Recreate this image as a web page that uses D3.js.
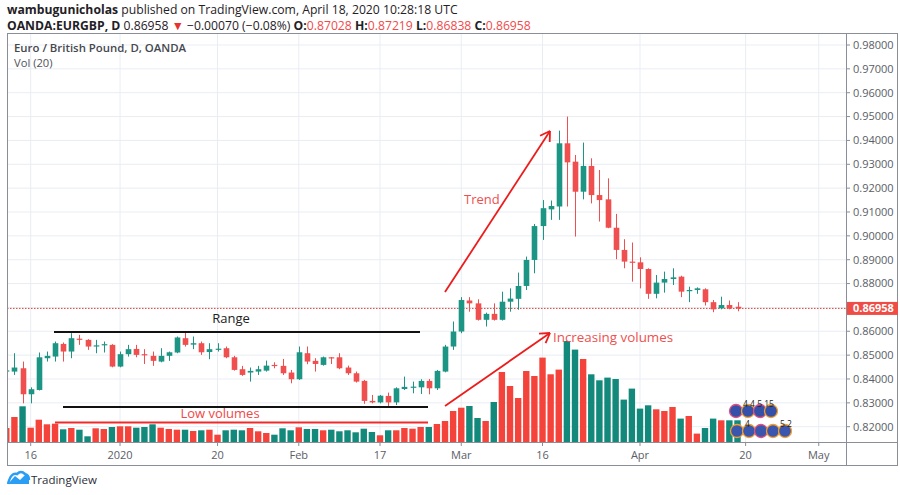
<!DOCTYPE html>
<html><head><meta charset="utf-8">
<script src="https://cdn.jsdelivr.net/npm/d3@7"></script>
<style>body{margin:0;background:#fff;} svg{display:block;font-family:'Open Sans',sans-serif;}</style>
</head><body><svg id="c" width="900" height="495"></svg>
<script>
// ---- data (EUR/GBP daily, OANDA) ----
const opens = [.8432,.8431,.8445,.8336,.8354,.8487,.8494,.8547,.8515,.8569,.8564,.8540,.8541,.8543,.8452,.8504,.8526,.8504,.8497,.8473,
.8497,.8511,.8571,.8544,.8550,.8513,.8522,.8529,.8491,.8441,.8427,.8431,.8435,.8459,.8455,.8427,.8399,.8508,.8476,.8459,
.8491,.8491,.8448,.8424,.8392,.8308,.8302,.8329,.8302,.8358,.8365,.8365,.8392,.8361,.8431,.8536,.8599,.8729,.8717,.8648,
.8673,.8648,.8724,.8736,.8790,.8899,.9041,.9111,.9123,.9388,.9311,.9185,.9293,.9171,.9153,.9034,.8941,.8892,.8889,.8861,
.8757,.8804,.8819,.8829,.8769,.8773,.8776,.8722,.8696,.8710,.87028];
const highs = [.8442,.8508,.8473,.8365,.8511,.8515,.8557,.8553,.8592,.8585,.8567,.8564,.8557,.8546,.8515,.8543,.8543,.8525,.8515,.8529,
.8515,.8578,.8596,.8578,.8557,.8550,.8550,.8536,.8497,.8455,.8448,.8455,.8477,.8470,.8484,.8438,.8536,.8536,.8487,.8494,
.8492,.8508,.8456,.8431,.8396,.8333,.8333,.8343,.8365,.8410,.8389,.8399,.8400,.8438,.8543,.8641,.8743,.8743,.8734,.8678,
.8717,.8766,.8780,.8846,.8913,.9050,.9150,.9148,.9441,.9500,.9339,.9391,.9325,.9276,.9241,.9092,.8986,.8972,.8910,.8864,
.8836,.8850,.8864,.8833,.8787,.8784,.8780,.8731,.8745,.8729,.87219];
const lows = [.8428,.8417,.8298,.8298,.8352,.8473,.8473,.8473,.8487,.8543,.8522,.8508,.8511,.8449,.8449,.8494,.8491,.8463,.8455,.8470,
.8476,.8508,.8536,.8525,.8501,.8483,.8515,.8487,.8435,.8413,.8389,.8417,.8431,.8445,.8417,.8382,.8396,.8462,.8431,.8456,
.8463,.8441,.8417,.8385,.8296,.8298,.8298,.8284,.8291,.8354,.8340,.8337,.8336,.8354,.8428,.8522,.8592,.8682,.8645,.8620,
.8645,.8645,.8682,.8690,.8773,.8843,.8983,.9067,.9067,.9123,.8997,.9153,.9136,.9060,.9032,.8902,.8864,.8808,.8780,.8736,
.8738,.8762,.8794,.8743,.8722,.8757,.8708,.8680,.8692,.8692,.86838];
const closes = [.8436,.8448,.8336,.8357,.8491,.8497,.8550,.8515,.8571,.8564,.8536,.8541,.8546,.8452,.8504,.8525,.8501,.8499,.8476,.8497,
.8512,.8574,.8543,.8550,.8512,.8525,.8527,.8491,.8438,.8417,.8434,.8441,.8456,.8455,.8424,.8399,.8512,.8473,.8463,.8491,
.8487,.8445,.8424,.8389,.8308,.8302,.8330,.8302,.8361,.8367,.8368,.8392,.8361,.8434,.8536,.8599,.8731,.8717,.8648,.8673,
.8648,.8724,.8737,.8790,.8899,.9041,.9116,.9125,.9388,.9308,.9185,.9293,.9171,.9150,.9034,.8941,.8892,.8888,.8861,.8757,
.8804,.8819,.8826,.8766,.8773,.8780,.8722,.8692,.8710,.8696,.86958];
const volumes = [1400,2500,3570,1430,2230,1770,1830,1270,1400,1230,570,1370,1300,1500,1570,1570,1430,1500,1770,1430,
1300,1230,1230,1100,1170,1230,730,1170,1230,1170,1400,1070,900,730,1370,1170,1470,1300,1300,1170,
1230,1070,1170,970,1330,1000,670,1170,1170,1400,1330,1500,1500,1800,2100,3100,3430,3600,2400,2100,
4000,7000,5600,4400,7100,6600,8440,6770,7240,10100,9240,8300,6770,6170,6440,6300,4240,5340,3340,3670,
3270,3100,3500,2340,2600,840,1400,2340,2170,2170,2170];
const priceTicks = [0.82,0.83,0.84,0.85,0.86,0.87,0.88,0.89,0.90,0.91,0.92,0.93,0.94,0.95,0.96,0.97,0.98];
const timeTickIndex = [3,14,26,36,46,56,66,78,91,100];
const timeTickLabels = ["16","2020","20","Feb","17","Mar","16","Apr","20","May"];
const lastPrice = 0.86958;

// ---- layout ----
const svg = d3.select("#c");
const L = 7, R = 846, T = 33, B = 442, FB = 466, FR = 898;
const UP = "#1d9584", DN = "#ef4f4f", VUP = "#f4433a", VDN = "#13897b";
const x = d3.scaleLinear().domain([0, 90]).range([6.3, 737.5]);
const y = d3.scaleLinear().domain([0.82, 0.98]).range([426.7, 45]);
const yv = d3.scaleLinear().domain([0, 10100]).range([B, 341]);

svg.append("defs").append("clipPath").attr("id","plot")
  .append("rect").attr("x",L).attr("y",T).attr("width",R-L).attr("height",B-T);

// grid
const g = svg.append("g").attr("clip-path","url(#plot)");
g.selectAll(".hg").data(priceTicks).join("line")
  .attr("x1",L).attr("x2",R).attr("y1",d=>y(d)).attr("y2",d=>y(d))
  .attr("stroke","#e9edf3").attr("stroke-width",1);
g.selectAll(".vg").data(timeTickIndex).join("line")
  .attr("x1",d=>x(d)).attr("x2",d=>x(d)).attr("y1",T).attr("y2",B)
  .attr("stroke","#e9edf3").attr("stroke-width",1);

const idx = d3.range(opens.length);
// volume
const bw = 6.4;
g.selectAll(".vol").data(idx).join("rect")
  .attr("x",i=>x(i)-bw/2).attr("width",bw)
  .attr("y",i=>yv(volumes[i])).attr("height",i=>B-yv(volumes[i]))
  .attr("fill",i=>closes[i]>=opens[i]?VUP:VDN);

// price line
g.append("line").attr("x1",L).attr("x2",R).attr("y1",y(lastPrice)).attr("y2",y(lastPrice))
  .attr("stroke","#e0403a").attr("stroke-width",1).attr("stroke-dasharray","1.5,1.5");

// candles
const cw = 5.6;
g.selectAll(".wick").data(idx).join("line")
  .attr("x1",i=>Math.round(x(i))+0.5).attr("x2",i=>Math.round(x(i))+0.5)
  .attr("y1",i=>y(highs[i])).attr("y2",i=>y(lows[i]))
  .attr("stroke",i=>closes[i]>=opens[i]?UP:DN).attr("stroke-width",1);
g.selectAll(".body").data(idx).join("rect")
  .attr("x",i=>Math.round(x(i))+0.5-cw/2).attr("width",cw)
  .attr("y",i=>y(Math.max(opens[i],closes[i])))
  .attr("height",i=>Math.max(1.2, Math.abs(y(opens[i])-y(closes[i]))))
  .attr("fill",i=>closes[i]>=opens[i]?UP:DN);

// frame
svg.append("rect").attr("x",L+0.5).attr("y",T+0.5).attr("width",FR-L-1).attr("height",FB-T-1)
  .attr("fill","none").attr("stroke","#8a8e96").attr("stroke-width",1);
svg.append("line").attr("x1",R+0.5).attr("x2",R+0.5).attr("y1",T).attr("y2",FB).attr("stroke","#8a8e96");
svg.append("line").attr("x1",L).attr("x2",FR).attr("y1",B+0.5).attr("y2",B+0.5).attr("stroke","#8a8e96");

// price axis
const pa = svg.append("g").attr("transform",`translate(${R},0)`);
pa.selectAll("line").data(priceTicks).join("line")
  .attr("x1",0).attr("x2",4).attr("y1",d=>y(d)).attr("y2",d=>y(d)).attr("stroke","#8a8e96");
pa.selectAll("text").data(priceTicks).join("text")
  .attr("x",7).attr("y",d=>y(d)).attr("dy","0.35em")
  .attr("font-size",11).attr("fill","#5a5e66").text(d=>d.toFixed(5));
// last price label
pa.append("rect").attr("x",1).attr("y",y(lastPrice)-6.5).attr("width",FR-R-1).attr("height",13).attr("fill","#ef4c45");
pa.append("text").attr("x",7).attr("y",y(lastPrice)).attr("dy","0.36em").attr("font-size",11)
  .attr("font-weight","bold").attr("fill","#fff").text(lastPrice.toFixed(5));

// time axis
const ta = svg.append("g");
ta.selectAll("line").data(timeTickIndex).join("line")
  .attr("x1",d=>x(d)).attr("x2",d=>x(d)).attr("y1",B).attr("y2",B+4).attr("stroke","#8a8e96");
ta.selectAll("text").data(timeTickIndex).join("text")
  .attr("x",d=>x(d)).attr("y",455).attr("dy","0.35em").attr("text-anchor","middle")
  .attr("font-size",11).attr("fill","#5a5e66").text((d,k)=>timeTickLabels[k]);

// header
const h1 = svg.append("text").attr("x",7).attr("y",13.5).attr("font-size",12.2).attr("fill","#1f2126");
h1.append("tspan").attr("font-weight","bold").text("wambugunicholas");
h1.append("tspan").text(" published on TradingView.com, April 18, 2020 10:28:18 UTC");
const h2 = svg.append("text").attr("x",7).attr("y",29.5).attr("font-size",12.2).attr("fill","#1f2126");
h2.append("tspan").attr("font-weight","bold").text("OANDA:EURGBP, D");
h2.append("tspan").text(" 0.86958 ");
h2.append("tspan").attr("fill","#e8322c").text("▼");
h2.append("tspan").text(" −0.00070 (−0.08%) ");
[["O:","0.87028"],["H:","0.87219"],["L:","0.86838"],["C:","0.86958"]].forEach((p,k)=>{
  h2.append("tspan").attr("font-weight","bold").text((k?" ":"")+p[0]);
  h2.append("tspan").attr("fill","#ef4a4a").text(p[1]);
});
svg.append("text").attr("x",14).attr("y",51.5).attr("font-size",11.4).attr("font-weight","600").attr("fill","#45484f")
  .text("Euro / British Pound, D, OANDA");
svg.append("text").attr("x",14).attr("y",66.5).attr("font-size",11.2).attr("fill","#50535a").text("Vol (20)");

// annotations
const ann = svg.append("g");
ann.append("line").attr("x1",54).attr("x2",420).attr("y1",332).attr("y2",332).attr("stroke","#111").attr("stroke-width",2);
ann.append("text").attr("x",231).attr("y",323).attr("text-anchor","middle").attr("font-size",13).attr("fill","#222").text("Range");
ann.append("line").attr("x1",63).attr("x2",428).attr("y1",407).attr("y2",407).attr("stroke","#111").attr("stroke-width",2);
ann.append("line").attr("x1",55).attr("x2",428).attr("y1",422.5).attr("y2",422.5).attr("stroke","#f02a2a").attr("stroke-width",2);
ann.append("text").attr("x",220).attr("y",418).attr("text-anchor","middle").attr("font-size",13).attr("fill","#f04848").text("Low volumes");
function arrow(x1,y1,x2,y2){
  ann.append("line").attr("x1",x1).attr("y1",y1).attr("x2",x2).attr("y2",y2).attr("stroke","#ec1c1c").attr("stroke-width",1.8);
  const a = Math.atan2(y2-y1,x2-x1), len=11;
  [a+Math.PI-0.55, a+Math.PI+0.55].forEach(b=>{
    ann.append("line").attr("x1",x2).attr("y1",y2).attr("x2",x2+len*Math.cos(b)).attr("y2",y2+len*Math.sin(b))
      .attr("stroke","#ec1c1c").attr("stroke-width",1.8);
  });
}
arrow(445,292,550,131);
arrow(445,406,550,333);
ann.append("text").attr("x",464).attr("y",204).attr("font-size",13).attr("fill","#ee5050").text("Trend");
ann.append("text").attr("x",553).attr("y",342).attr("font-size",13.4).attr("fill","#ee5050").text("Increasing volumes");

// event flags (approximation)
const ev = svg.append("g");
[[736,411,"#e05080"],[748,411,"#f0a030"],[760,411,"#e05080"],[771,411,"#f0a030"]].forEach(c=>{
  ev.append("circle").attr("cx",c[0]).attr("cy",c[1]).attr("r",6.5).attr("fill","#3550a8").attr("stroke",c[2]).attr("stroke-width",1.3);
});
[[737,431,"#f0a030"],[749,431,"#f0a030"],[761,431,"#e05080"],[773,431,"#f0a030"],[785,431,"#f0a030"]].forEach(c=>{
  ev.append("circle").attr("cx",c[0]).attr("cy",c[1]).attr("r",6.5).attr("fill","#3a56ad").attr("stroke",c[2]).attr("stroke-width",1.3);
});
ev.append("text").attr("x",743).attr("y",407).attr("font-size",8.5).attr("fill","#222").text("4 4 5 15");
ev.append("text").attr("x",745).attr("y",427).attr("font-size",8.5).attr("fill","#222").text("4");
ev.append("text").attr("x",780).attr("y",427).attr("font-size",8.5).attr("fill","#222").text("5 2");

// TradingView logo
const lg = svg.append("g");
lg.append("path").attr("d","M8,484 L15,476 L20,480 L26,474 L29,478 L29,484 Z").attr("fill","#2a9df4");
lg.append("path").attr("d","M8,484 Q11,472 17,474 Q21,470 25,474 Q29,475 29,480").attr("fill","none").attr("stroke","#2a9df4").attr("stroke-width",2.5);
svg.append("text").attr("x",31).attr("y",484).attr("font-size",11.5).attr("fill","#2a2e39").text("TradingView");
</script></body></html>
